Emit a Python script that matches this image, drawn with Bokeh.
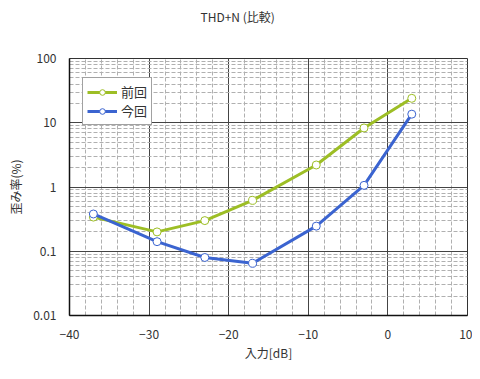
from bokeh.plotting import figure
from bokeh.models import FixedTicker, Legend, LegendItem, Range1d, Title
from bokeh.embed import file_html
from bokeh.resources import INLINE

x_db = [-37, -29, -23, -17, -9, -3, 3]
prev_thd = [0.34, 0.20, 0.30, 0.62, 2.2, 8.3, 24.0]
curr_thd = [0.38, 0.141, 0.080, 0.065, 0.246, 1.06, 13.6]
series_names = ["前回", "今回"]
x_ticks = [-40, -30, -20, -10, 0, 10]
y_ticks = [0.01, 0.1, 1, 10, 100]
y_tick_labels = ["0.01", "0.1", "1", "10", "100"]

FONT = "Noto Sans CJK JP"
GREEN = "#9dbe25"
BLUE = "#3b64d0"

p = figure(width=472, height=363, y_axis_type="log",
           x_range=Range1d(-40, 10), y_range=Range1d(0.01, 100),
           output_backend="svg", toolbar_location=None,
           min_border_left=69, min_border_right=5, min_border_top=58, min_border_bottom=47)
p.outline_line_color = "#333333"
p.background_fill_color = "white"

# spacer between frame and title
spacer = Title(text=" ", text_font=FONT, text_font_size="12px", standoff=15)
p.add_layout(spacer, "above")

p.title.text = "THD+N (比較)"
p.title.align = "left"
p.title.offset = 131
p.title.text_font = FONT
p.title.text_font_size = "12px"
p.title.text_font_style = "normal"
p.title.text_color = "#333333"
p.title.standoff = 0

x_minor = [v for v in range(-38, 10, 2) if v % 10 != 0]
y_minor = []
for d in [0.01, 0.1, 1, 10]:
    for k in range(2, 10):
        y_minor.append(round(d * k, 4))

p.xaxis.ticker = FixedTicker(ticks=x_ticks, minor_ticks=x_minor)
p.yaxis.ticker = FixedTicker(ticks=y_ticks, minor_ticks=y_minor)
p.yaxis.major_label_overrides = {t: l for t, l in zip(y_ticks, y_tick_labels)}

for ax in (p.xaxis[0], p.yaxis[0]):
    ax.major_tick_out = 0
    ax.major_tick_in = 0
    ax.minor_tick_out = 0
    ax.minor_tick_in = 0
    ax.axis_line_color = "#111111"
    ax.axis_line_width = 1.5
    ax.major_label_text_font = FONT
    ax.major_label_text_font_size = "12px"
    ax.major_label_text_color = "#333333"
    ax.axis_label_text_font = FONT
    ax.axis_label_text_font_size = "12px"
    ax.axis_label_text_font_style = "normal"
    ax.axis_label_text_color = "#333333"

p.xaxis.axis_label = "入力[dB]"
p.yaxis.axis_label = "歪み率(%)"
p.xaxis.major_label_standoff = 14
p.yaxis.major_label_standoff = 13
p.xaxis.axis_label_standoff = 2
p.yaxis.axis_label_standoff = 6

for g in (p.xgrid[0], p.ygrid[0]):
    g.grid_line_color = "#444444"
    g.grid_line_width = 1
    g.minor_grid_line_color = "#b0b0b0"
    g.minor_grid_line_dash = "4 2"
    g.minor_grid_line_width = 1

r1 = p.line(x_db, prev_thd, color=GREEN, line_width=3)
c1 = p.scatter(x_db, prev_thd, size=8, fill_color="white", line_color=GREEN, line_width=1)
r2 = p.line(x_db, curr_thd, color=BLUE, line_width=3)
c2 = p.scatter(x_db, curr_thd, size=8, fill_color="white", line_color=BLUE, line_width=1)

legend = Legend(items=[LegendItem(label=series_names[0], renderers=[r1, c1]),
                       LegendItem(label=series_names[1], renderers=[r2, c2])],
                location=(13, 190))
legend.border_line_color = "#444444"
legend.background_fill_alpha = 1
legend.label_text_font = FONT
legend.label_text_font_size = "13px"
legend.label_text_color = "#333333"
legend.glyph_width = 30
legend.glyph_height = 14
legend.label_height = 14
legend.spacing = 0
legend.padding = 4
legend.margin = 0
legend.label_standoff = 4
p.add_layout(legend, "center")

open("out.html", "w").write(file_html(p, INLINE))
